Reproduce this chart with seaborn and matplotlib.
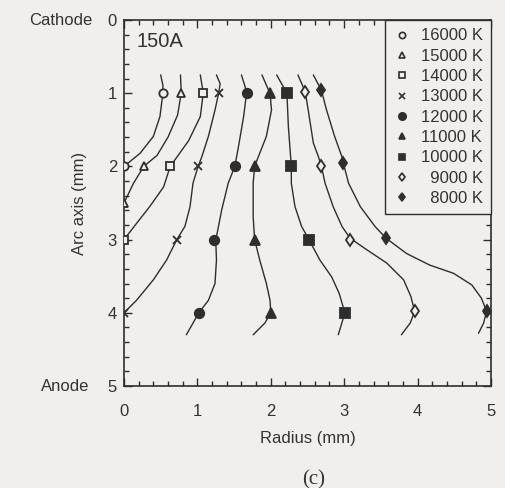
import pandas as pd
import numpy as np
import matplotlib.pyplot as plt
import seaborn as sns
from matplotlib.lines import Line2D
from matplotlib.ticker import MultipleLocator

# Isotherm labels
temps = ['16000 K', '15000 K', '14000 K', '13000 K', '12000 K',
         '11000 K', '10000 K', '9000 K', '8000 K']

# Curve points (radius, arc axis position), mm
curve_r = {
    '16000 K': [0.50, 0.53, 0.53, 0.49, 0.40, 0.22, 0.00],
    '15000 K': [0.77, 0.78, 0.73, 0.60, 0.45, 0.27, 0.13, 0.00],
    '14000 K': [1.04, 1.08, 1.04, 0.88, 0.63, 0.54, 0.35, 0.17, 0.00],
    '13000 K': [1.26, 1.31, 1.29, 1.24, 1.15, 1.06, 1.01, 0.94, 0.90, 0.83, 0.72,
                0.58, 0.40, 0.17, 0.00],
    '12000 K': [1.60, 1.65, 1.67, 1.63, 1.56, 1.51, 1.42, 1.33, 1.27, 1.25, 1.26,
                1.24, 1.15, 1.02, 0.85],
    '11000 K': [1.88, 1.94, 1.99, 2.01, 1.94, 1.83, 1.78, 1.76, 1.76, 1.78, 1.85,
                1.94, 1.99, 2.00, 1.92, 1.76],
    '10000 K': [2.08, 2.22, 2.24, 2.28, 2.28, 2.33, 2.42, 2.52, 2.67, 2.83, 2.93,
                3.01, 2.92],
    '9000 K': [2.37, 2.47, 2.51, 2.58, 2.65, 2.69, 2.74, 2.85, 2.97, 3.08, 3.31,
               3.58, 3.81, 3.91, 3.96, 3.90, 3.78],
    '8000 K': [2.58, 2.69, 2.76, 2.87, 2.97, 2.99, 3.06, 3.22, 3.42, 3.57, 3.85,
               4.17, 4.49, 4.74, 4.87, 4.94, 4.90, 4.83],
}
curve_z = {
    '16000 K': [0.75, 0.89, 1.00, 1.32, 1.59, 1.82, 2.00],
    '15000 K': [0.75, 1.00, 1.30, 1.60, 1.85, 2.00, 2.23, 2.50],
    '14000 K': [0.75, 1.00, 1.32, 1.65, 2.00, 2.28, 2.55, 2.78, 3.00],
    '13000 K': [0.75, 0.87, 1.00, 1.23, 1.59, 1.87, 2.00, 2.23, 2.55, 2.82, 3.00,
                3.28, 3.55, 3.83, 4.00],
    '12000 K': [0.75, 0.91, 1.00, 1.32, 1.73, 2.00, 2.23, 2.60, 2.91, 3.00, 3.28,
                3.60, 3.83, 4.00, 4.30],
    '11000 K': [0.75, 0.89, 1.00, 1.23, 1.59, 1.87, 2.00, 2.23, 2.69, 3.00, 3.28,
                3.60, 3.83, 4.00, 4.14, 4.30],
    '10000 K': [0.75, 1.00, 1.46, 2.00, 2.23, 2.55, 2.82, 3.00, 3.28, 3.51, 3.73,
                4.00, 4.30],
    '9000 K': [0.75, 0.98, 1.23, 1.68, 1.87, 2.00, 2.23, 2.55, 2.82, 2.98, 3.14,
               3.32, 3.55, 3.78, 3.98, 4.14, 4.30],
    '8000 K': [0.75, 0.96, 1.23, 1.59, 1.87, 1.96, 2.23, 2.55, 2.82, 2.98, 3.19,
               3.35, 3.46, 3.62, 3.80, 3.98, 4.14, 4.28],
}

# Marked points
mark_r = {
    '16000 K': [0.53, 0.00],
    '15000 K': [0.78, 0.27, 0.00],
    '14000 K': [1.08, 0.63, 0.00],
    '13000 K': [1.29, 1.01, 0.72, 0.00],
    '12000 K': [1.68, 1.51, 1.23, 1.02],
    '11000 K': [1.99, 1.78, 1.78, 2.00],
    '10000 K': [2.22, 2.28, 2.52, 3.01],
    '9000 K': [2.47, 2.69, 3.08, 3.96],
    '8000 K': [2.69, 2.99, 3.57, 4.94],
}
mark_z = {
    '16000 K': [1, 2],
    '15000 K': [1, 2, 2.5],
    '14000 K': [1, 2, 3],
    '13000 K': [1, 2, 3, 4],
    '12000 K': [1, 2, 3, 4],
    '11000 K': [1, 2, 3, 4],
    '10000 K': [1, 2, 3, 4],
    '9000 K': [0.98, 2, 3, 3.98],
    '8000 K': [0.96, 1.96, 2.98, 3.98],
}

bg = '#f0efed'
ink = '#2e2e2e'

# marker style per isotherm: (marker, filled, size)
estilos = {
    '16000 K': ('o', False, 6.0),
    '15000 K': ('^', False, 6.0),
    '14000 K': ('s', False, 5.5),
    '13000 K': ('x', True, 6.0),
    '12000 K': ('o', True, 6.8),
    '11000 K': ('^', True, 6.5),
    '10000 K': ('s', True, 6.5),
    '9000 K': ('d', False, 6.0),
    '8000 K': ('d', True, 6.0),
}

sns.set_theme(style='ticks')
plt.rcParams['font.family'] = ['Liberation Sans', 'DejaVu Sans']
plt.rcParams['font.size'] = 12

linhas = pd.DataFrame({
    'r': np.concatenate([curve_r[t] for t in temps]),
    'z': np.concatenate([curve_z[t] for t in temps]),
    'temp': np.concatenate([[t] * len(curve_r[t]) for t in temps]),
})

fig = plt.figure(figsize=(5.05, 4.88), dpi=100, facecolor=bg)
ax = fig.add_axes([0.2455, 0.209, 0.7267, 0.750], facecolor=bg)

sns.lineplot(data=linhas, x='r', y='z', units='temp', estimator=None, sort=False,
             color=ink, linewidth=1.0, ax=ax, legend=False)

handles = []
for t in temps:
    m, cheio, ms = estilos[t]
    fc = ink if (cheio or m == 'x') else bg
    ax.plot(mark_r[t], mark_z[t], linestyle='none', marker=m, markersize=ms,
            markerfacecolor=fc, markeredgecolor=ink, markeredgewidth=1.3, zorder=3)
    handles.append(Line2D([], [], linestyle='none', marker=m, markersize=ms - 1.5,
                          markerfacecolor=fc, markeredgecolor=ink, markeredgewidth=1.2))

# espaço de algarismo para alinhar à direita
labels = [t if len(t) == 7 else '\u2007' + t for t in temps]
leg = ax.legend(handles, labels, loc='upper right', bbox_to_anchor=(1, 1),
                borderaxespad=0, frameon=True, fancybox=False, edgecolor=ink,
                facecolor=bg, framealpha=1, fontsize=12, labelspacing=0.32,
                handlelength=1.1, handletextpad=0.55, borderpad=0.5)
leg.get_frame().set_linewidth(1.0)
leg._legend_box.pad = leg._legend_box.pad  # keep default packing
for txt in leg.get_texts():
    txt.set_color('#333333')

ax.set_xlim(0, 5)
ax.set_ylim(5, 0)
ax.xaxis.set_major_locator(MultipleLocator(1))
ax.yaxis.set_major_locator(MultipleLocator(1))
ax.xaxis.set_minor_locator(MultipleLocator(0.2))
ax.yaxis.set_minor_locator(MultipleLocator(0.2))
ax.tick_params(which='both', direction='in', top=True, right=True, color=ink,
               width=1.0, labelcolor='#333333', labelsize=12)
ax.tick_params(which='major', length=6)
ax.tick_params(which='minor', length=3.5)
ax.tick_params(axis='x', which='major', pad=13)
ax.tick_params(axis='y', which='major', pad=5)
for s in ax.spines.values():
    s.set_linewidth(1.2)
    s.set_color(ink)

ax.set_xlabel('Radius (mm)', fontsize=12, color='#333333')
ax.set_ylabel('Arc axis (mm)', fontsize=12, color='#333333')
ax.xaxis.set_label_coords(0.5, -0.122)
ax.yaxis.set_label_coords(-0.101, 0.5)

ax.text(-0.087, 1.0, 'Cathode', transform=ax.transAxes, ha='right', va='center',
        fontsize=12, color='#333333')
ax.text(-0.095, 0.0, 'Anode', transform=ax.transAxes, ha='right', va='center',
        fontsize=12, color='#333333')
ax.text(0.033, 0.94, '150A', transform=ax.transAxes, ha='left', va='center',
        fontsize=14.5, color='#333333')
fig.text(0.622, 0.017, '(c)', ha='center', va='center', fontsize=15,
         family='Liberation Serif', color='#333333')

plt.savefig('out.png', dpi=100, facecolor=bg)
